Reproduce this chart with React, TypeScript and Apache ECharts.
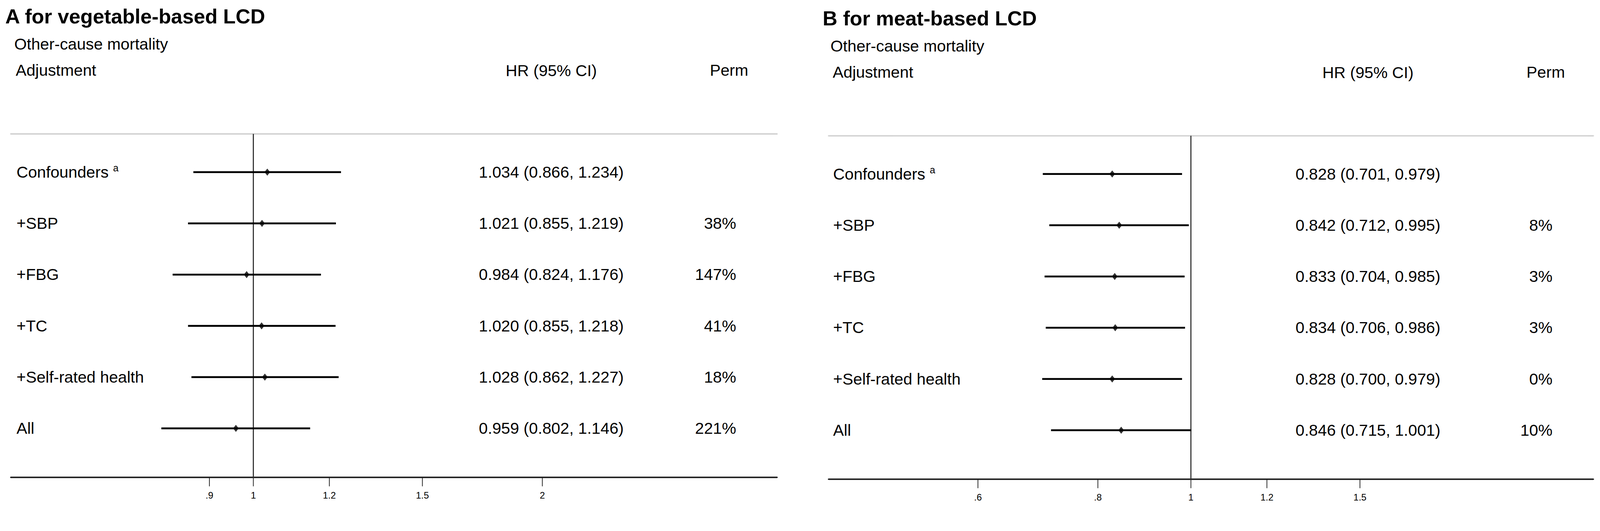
import React, { useEffect, useRef } from 'react';
import * as echarts from 'echarts';

const adjustments = ['Confounders', '+SBP', '+FBG', '+TC', '+Self-rated health', 'All'];

const vegHR = [1.034, 1.021, 0.984, 1.02, 1.028, 0.959];
const vegLo = [0.866, 0.855, 0.824, 0.855, 0.862, 0.802];
const vegHi = [1.234, 1.219, 1.176, 1.218, 1.227, 1.146];
const vegPerm = ['', '38%', '147%', '41%', '18%', '221%'];

const meatHR = [0.828, 0.842, 0.833, 0.834, 0.828, 0.846];
const meatLo = [0.701, 0.712, 0.704, 0.706, 0.7, 0.715];
const meatHi = [0.979, 0.995, 0.985, 0.986, 0.979, 1.001];
const meatPerm = ['', '8%', '3%', '3%', '0%', '10%'];

const vegTicks = [0.9, 1, 1.2, 1.5, 2];
const vegTickLabels = ['.9', '1', '1.2', '1.5', '2'];
const meatTicks = [0.6, 0.8, 1, 1.2, 1.5];
const meatTickLabels = ['.6', '.8', '1', '1.2', '1.5'];

const FONT = '"Liberation Sans", Arial, Helvetica, sans-serif';
const W = 4275;
const H = 1360;
const Y_MIN = -0.745;
const Y_MAX = 5.956;

const panels = [
  {
    title: 'A for vegetable-based LCD',
    hr: vegHR, lo: vegLo, hi: vegHi, perm: vegPerm,
    ticks: vegTicks, tickLabels: vegTickLabels,
    gridLeft: 29, gridWidth: 2047, gridTop: 358, gridHeight: 918,
    xMin: 0.559, xMax: 3.511,
    titleX: 14, subX: 38, adjX: 42, labelX: 44, hrX: 1473, permHeadX: 1948, permX: 1967,
    dy: 0,
  },
  {
    title: 'B for meat-based LCD',
    hr: meatHR, lo: meatLo, hi: meatHi, perm: meatPerm,
    ticks: meatTicks, tickLabels: meatTickLabels,
    gridLeft: 2214, gridWidth: 2043, gridTop: 363, gridHeight: 918,
    xMin: 0.4194, xMax: 2.625,
    titleX: 2198, subX: 2219, adjX: 2225, labelX: 2226, hrX: 3655, permHeadX: 4130, permX: 4148,
    dy: 5,
  },
];

function fmt(v: number) {
  return v.toFixed(3);
}

function buildOption() {
  const grid: any[] = [];
  const xAxis: any[] = [];
  const yAxis: any[] = [];
  const series: any[] = [];
  const graphic: any[] = [];

  panels.forEach((p, k) => {
    grid.push({ left: p.gridLeft, top: p.gridTop, width: p.gridWidth, height: p.gridHeight, containLabel: false });
    const xBase = {
      type: 'log', logBase: 10, min: p.xMin, max: p.xMax, gridIndex: k,
      axisTick: { show: false }, axisLabel: { show: false }, splitLine: { show: false },
    };
    xAxis.push({ ...xBase, position: 'bottom', axisLine: { show: true, onZero: false, lineStyle: { color: '#1a1a1a', width: 4 } } });
    xAxis.push({ ...xBase, position: 'top', axisLine: { show: true, onZero: false, lineStyle: { color: '#d4d4d4', width: 4 } } });
    yAxis.push({ type: 'value', min: Y_MIN, max: Y_MAX, inverse: true, show: false, gridIndex: k });

    const xi = 2 * k;
    const yi = k;

    // reference line at HR = 1
    series.push({
      type: 'line', xAxisIndex: xi, yAxisIndex: yi, data: [[1, Y_MIN], [1, Y_MAX]],
      symbol: 'none', lineStyle: { color: '#333', width: 3 }, silent: true, z: 1,
    });

    // CI lines
    series.push({
      type: 'custom', xAxisIndex: xi, yAxisIndex: yi,
      data: p.hr.map((_, i) => [p.lo[i], p.hi[i], i]),
      encode: { x: [0, 1], y: 2 },
      clip: false, z: 2,
      renderItem: (params: any, api: any) => {
        const a = api.coord([api.value(0), api.value(2)]);
        const b = api.coord([api.value(1), api.value(2)]);
        return {
          type: 'line',
          shape: { x1: a[0], y1: a[1], x2: b[0], y2: b[1] },
          style: { stroke: '#000', lineWidth: 5 },
        };
      },
    });

    // point estimates
    series.push({
      type: 'scatter', xAxisIndex: xi, yAxisIndex: yi,
      data: p.hr.map((h, i) => [h, i]),
      symbol: 'diamond', symbolSize: [15, 19], itemStyle: { color: '#000' }, z: 3, silent: true,
    });

    // row texts
    series.push({
      type: 'custom', xAxisIndex: xi, yAxisIndex: yi,
      data: p.hr.map((_, i) => [1, i]),
      encode: { x: 0, y: 1 },
      clip: false, z: 4, silent: true,
      renderItem: (params: any, api: any) => {
        const i = params.dataIndex;
        const y = api.coord([1, api.value(1)])[1];
        const label = i === 0 ? adjustments[i] + ' {sup|a}' : adjustments[i];
        const children: any[] = [
          {
            type: 'text', x: p.labelX, y,
            style: {
              text: label, fontFamily: FONT, fontSize: 43, fill: '#000',
              align: 'left', verticalAlign: 'middle',
              rich: { sup: { fontFamily: FONT, fontSize: 26, fill: '#000', padding: [0, 0, 22, 0] } },
            },
          },
          {
            type: 'text', x: p.hrX, y,
            style: {
              text: `${fmt(p.hr[i])} (${fmt(p.lo[i])}, ${fmt(p.hi[i])})`,
              fontFamily: FONT, fontSize: 43, fill: '#000', align: 'center', verticalAlign: 'middle',
            },
          },
        ];
        if (p.perm[i]) {
          children.push({
            type: 'text', x: p.permX, y,
            style: { text: p.perm[i], fontFamily: FONT, fontSize: 43, fill: '#000', align: 'right', verticalAlign: 'middle' },
          });
        }
        return { type: 'group', children };
      },
    });

    // axis ticks & labels
    series.push({
      type: 'custom', xAxisIndex: xi, yAxisIndex: yi,
      data: p.ticks.map((t) => [t, Y_MAX]),
      encode: { x: 0, y: 1 },
      clip: false, z: 4, silent: true,
      renderItem: (params: any, api: any) => {
        const c = api.coord([api.value(0), api.value(1)]);
        return {
          type: 'group',
          children: [
            { type: 'line', shape: { x1: c[0], y1: c[1], x2: c[0], y2: c[1] + 24 }, style: { stroke: '#222', lineWidth: 2 } },
            {
              type: 'text', x: c[0], y: c[1] + 48,
              style: { text: p.tickLabels[params.dataIndex], fontFamily: FONT, fontSize: 25, fill: '#000', align: 'center', verticalAlign: 'middle' },
            },
          ],
        };
      },
    });

    // headers
    graphic.push({
      type: 'text', x: p.titleX, y: 44 + p.dy,
      style: { text: p.title, fontFamily: FONT, fontSize: 54.5, fontWeight: 'bold', fill: '#000', align: 'left', verticalAlign: 'middle' },
    });
    graphic.push({
      type: 'text', x: p.subX, y: 118 + p.dy,
      style: { text: 'Other-cause mortality', fontFamily: FONT, fontSize: 43, fill: '#000', align: 'left', verticalAlign: 'middle' },
    });
    graphic.push({
      type: 'text', x: p.adjX, y: 188 + p.dy,
      style: { text: 'Adjustment', fontFamily: FONT, fontSize: 43, fill: '#000', align: 'left', verticalAlign: 'middle' },
    });
    graphic.push({
      type: 'text', x: p.hrX, y: 189 + p.dy,
      style: { text: 'HR (95% CI)', fontFamily: FONT, fontSize: 43, fill: '#000', align: 'center', verticalAlign: 'middle' },
    });
    graphic.push({
      type: 'text', x: p.permHeadX, y: 188 + p.dy,
      style: { text: 'Perm', fontFamily: FONT, fontSize: 43, fill: '#000', align: 'center', verticalAlign: 'middle' },
    });
  });

  return {
    animation: false,
    backgroundColor: '#ffffff',
    grid, xAxis, yAxis, series, graphic,
  };
}

function viewportScale() {
  if (typeof window === 'undefined') return 1;
  const sw = window.innerWidth / W;
  const sh = window.innerHeight / H;
  const s = Math.min(sw, sh);
  return s > 0 ? s : 1;
}

export default function App() {
  const ref = useRef<HTMLDivElement>(null);
  const [scale, setScale] = React.useState(viewportScale());

  useEffect(() => {
    const onResize = () => setScale(viewportScale());
    window.addEventListener('resize', onResize);
    return () => window.removeEventListener('resize', onResize);
  }, []);

  useEffect(() => {
    if (!ref.current) return;
    const chart = echarts.init(ref.current, undefined, { renderer: 'svg', width: W, height: H });
    chart.setOption(buildOption() as any);
    return () => chart.dispose();
  }, []);

  return (
    <div
      style={{ position: 'fixed', left: 0, top: 0, width: W * scale, height: H * scale, overflow: 'hidden', background: '#fff' }}
    >
      <div
        ref={ref}
        style={{ width: W, height: H, transform: `scale(${scale})`, transformOrigin: '0 0', background: '#fff' }}
      />
    </div>
  );
}
